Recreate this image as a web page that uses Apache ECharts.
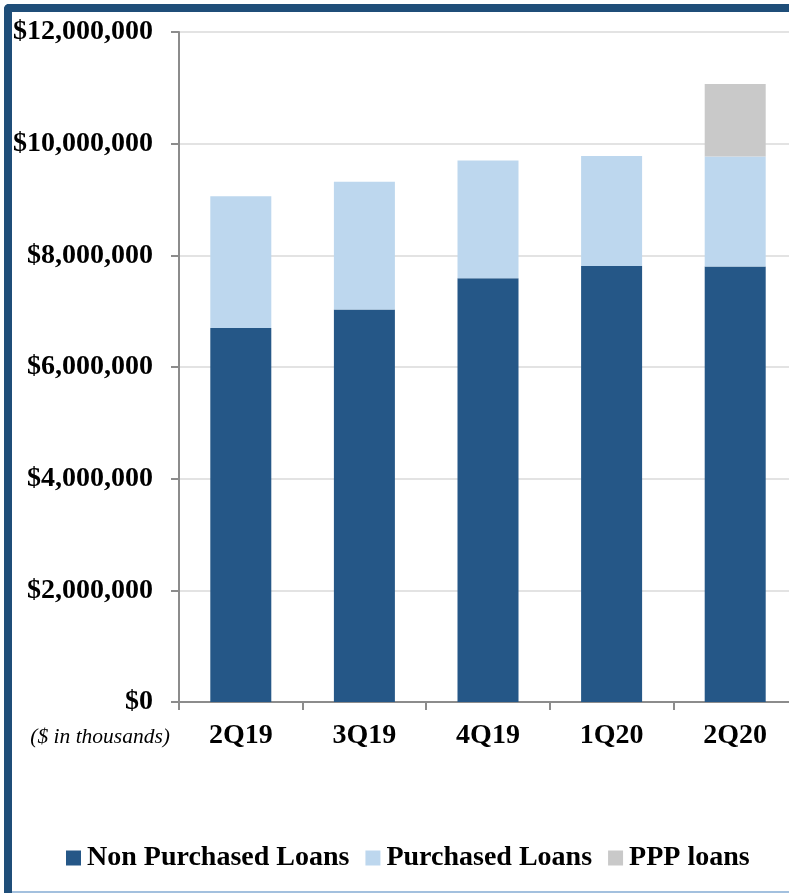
<!DOCTYPE html>
<html>
<head>
<meta charset="utf-8">
<title>Loan composition by quarter</title>
<script src="https://cdn.jsdelivr.net/npm/echarts@6/dist/echarts.min.js"></script>
<style>
  html, body { margin: 0; padding: 0; background: #ffffff; overflow: hidden; }
  #chart { width: 800px; height: 893px; }
</style>
</head>
<body>
<div id="chart"></div>
<script>
// Quarter-end loan balances ($ in thousands)
const quarters = ['2Q19', '3Q19', '4Q19', '1Q20', '2Q20'];
const nonPurchasedLoans = [6700000, 7030000, 7590000, 7810000, 7800000];
const purchasedLoans = [2360000, 2290000, 2110000, 1970000, 1970000];
const pppLoans = [null, null, null, null, 1300000];
const yTicks = [0, 2000000, 4000000, 6000000, 8000000, 10000000, 12000000];

const FONT = "'Liberation Serif', 'DejaVu Serif', serif";
const FRAME = '#1f4e79';

const chart = echarts.init(document.getElementById('chart'), null, { renderer: 'canvas' });

const fmtMoney = v => '$' + Number(v).toLocaleString('en-US');

chart.setOption({
  animation: false,
  backgroundColor: '#ffffff',
  grid: { left: 179, top: 32, width: 618, height: 670, containLabel: false },
  legend: {
    left: 61,
    top: 839,
    itemWidth: 15,
    itemHeight: 15,
    itemGap: 16,
    icon: 'rect',
    textStyle: { fontFamily: FONT, fontWeight: 'bold', fontSize: 28, color: '#000000', padding: [0, 0, 0, 1] },
    data: ['Non Purchased Loans', 'Purchased Loans', 'PPP loans']
  },
  xAxis: {
    type: 'category',
    data: quarters,
    axisLine: { lineStyle: { color: '#8c8c8c', width: 2 } },
    axisTick: { show: true, length: 8, alignWithLabel: false, lineStyle: { color: '#8c8c8c', width: 2 } },
    axisLabel: { fontFamily: FONT, fontWeight: 'bold', fontSize: 28, color: '#000000', margin: 20 }
  },
  yAxis: {
    type: 'value',
    min: yTicks[0],
    max: yTicks[yTicks.length - 1],
    interval: yTicks[1] - yTicks[0],
    axisLine: { show: true, lineStyle: { color: '#8c8c8c', width: 2 } },
    axisTick: { show: true, length: 8, lineStyle: { color: '#8c8c8c', width: 2 } },
    splitLine: { show: true, lineStyle: { color: '#e3e3e3', width: 2 } },
    axisLabel: { fontFamily: FONT, fontWeight: 'bold', fontSize: 28, color: '#000000', margin: 26, formatter: fmtMoney }
  },
  series: [
    {
      name: 'Non Purchased Loans', type: 'bar', stack: 'loans', barWidth: 61,
      itemStyle: { color: '#255787' }, data: nonPurchasedLoans
    },
    {
      name: 'Purchased Loans', type: 'bar', stack: 'loans', barWidth: 61,
      itemStyle: { color: '#bdd7ee' }, data: purchasedLoans
    },
    {
      name: 'PPP loans', type: 'bar', stack: 'loans', barWidth: 61,
      itemStyle: { color: '#c9c9c9' }, data: pppLoans
    }
  ],
  graphic: [
    // frame: thick left and top rules, thin bottom rule
    { type: 'rect', left: 4, top: 4, z: 100, shape: { width: 8, height: 889, r: [5, 0, 0, 0] }, style: { fill: FRAME } },
    { type: 'rect', left: 4, top: 4, z: 100, shape: { width: 796, height: 8, r: [5, 0, 0, 0] }, style: { fill: FRAME } },
    { type: 'rect', left: 12, top: 891, z: 100, shape: { width: 788, height: 2 }, style: { fill: '#a3c0de' } },
    // unit note beside the category labels
    {
      type: 'text', z: 100, x: 170, y: 737,
      style: {
        text: '($ in thousands)', fontFamily: FONT, fontStyle: 'italic', fontSize: 21.5,
        fill: '#000000', align: 'right', verticalAlign: 'middle'
      }
    }
  ]
});
</script>
</body>
</html>
